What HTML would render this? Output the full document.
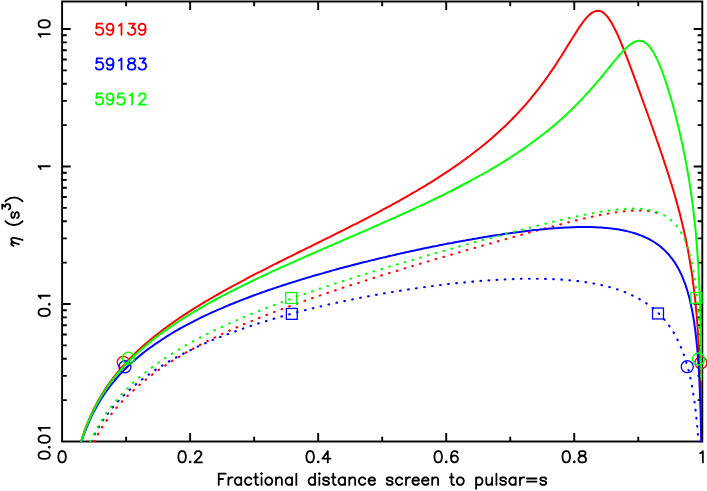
<!DOCTYPE html>
<html><head><meta charset="utf-8"><title>eta vs s</title>
<style>html,body{margin:0;padding:0;background:#fff;font-family:"Liberation Sans",sans-serif;}svg{display:block}</style>
</head><body>
<svg width="707" height="491" viewBox="0 0 707 491">
<rect width="707" height="491" fill="#fff"/>
<rect x="62.10" y="1.50" width="640.20" height="440.00" fill="none" stroke="#000" stroke-width="1.9"/>
<path d="M126.12 441.50v-4.70M126.12 1.50v4.70M190.14 441.50v-8.60M190.14 1.50v8.60M254.16 441.50v-4.70M254.16 1.50v4.70M318.18 441.50v-8.60M318.18 1.50v8.60M382.20 441.50v-4.70M382.20 1.50v4.70M446.22 441.50v-8.60M446.22 1.50v8.60M510.24 441.50v-4.70M510.24 1.50v4.70M574.26 441.50v-8.60M574.26 1.50v8.60M638.28 441.50v-4.70M638.28 1.50v4.70M62.10 400.11h4.70M702.30 400.11h-4.70M62.10 375.90h4.70M702.30 375.90h-4.70M62.10 358.72h4.70M702.30 358.72h-4.70M62.10 345.39h4.70M702.30 345.39h-4.70M62.10 334.50h4.70M702.30 334.50h-4.70M62.10 325.30h4.70M702.30 325.30h-4.70M62.10 317.33h4.70M702.30 317.33h-4.70M62.10 310.29h4.70M702.30 310.29h-4.70M62.10 304.00h8.60M702.30 304.00h-8.60M62.10 262.61h4.70M702.30 262.61h-4.70M62.10 238.40h4.70M702.30 238.40h-4.70M62.10 221.22h4.70M702.30 221.22h-4.70M62.10 207.89h4.70M702.30 207.89h-4.70M62.10 197.00h4.70M702.30 197.00h-4.70M62.10 187.80h4.70M702.30 187.80h-4.70M62.10 179.83h4.70M702.30 179.83h-4.70M62.10 172.79h4.70M702.30 172.79h-4.70M62.10 166.50h8.60M702.30 166.50h-8.60M62.10 125.11h4.70M702.30 125.11h-4.70M62.10 100.90h4.70M702.30 100.90h-4.70M62.10 83.72h4.70M702.30 83.72h-4.70M62.10 70.39h4.70M702.30 70.39h-4.70M62.10 59.50h4.70M702.30 59.50h-4.70M62.10 50.30h4.70M702.30 50.30h-4.70M62.10 42.33h4.70M702.30 42.33h-4.70M62.10 35.29h4.70M702.30 35.29h-4.70M62.10 29.00h8.60M702.30 29.00h-8.60" stroke="#000" stroke-width="1.9" fill="none"/>
<path d="M-0.54 -11.24 L-2.14 -10.70 L-3.21 -9.10 L-3.75 -6.42 L-3.75 -4.82 L-3.21 -2.14 L-2.14 -0.54 L-0.54 -0.00 L0.54 -0.00 L2.14 -0.54 L3.21 -2.14 L3.75 -4.82 L3.75 -6.42 L3.21 -9.10 L2.14 -10.70 L0.54 -11.24 L-0.54 -11.24" transform="translate(62.10 462.40)" fill="none" stroke="#000" stroke-width="1.8" stroke-linecap="round" stroke-linejoin="round"/>
<path d="M-8.56 -11.24 L-10.16 -10.70 L-11.23 -9.10 L-11.77 -6.42 L-11.77 -4.82 L-11.23 -2.14 L-10.16 -0.54 L-8.56 -0.00 L-7.49 -0.00 L-5.88 -0.54 L-4.81 -2.14 L-4.28 -4.82 L-4.28 -6.42 L-4.81 -9.10 L-5.88 -10.70 L-7.49 -11.24 L-8.56 -11.24M0.00 -1.07 L-0.53 -0.54 L0.00 -0.00 L0.54 -0.54 L0.00 -1.07M4.82 -8.56 L4.82 -9.10 L5.35 -10.17 L5.89 -10.70 L6.96 -11.24 L9.09 -11.24 L10.16 -10.70 L10.70 -10.17 L11.23 -9.10 L11.23 -8.03 L10.70 -6.96 L9.63 -5.35 L4.28 -0.00 L11.77 -0.00" transform="translate(190.14 462.40)" fill="none" stroke="#000" stroke-width="1.8" stroke-linecap="round" stroke-linejoin="round"/>
<path d="M-8.56 -11.24 L-10.16 -10.70 L-11.23 -9.10 L-11.77 -6.42 L-11.77 -4.82 L-11.23 -2.14 L-10.16 -0.54 L-8.56 -0.00 L-7.49 -0.00 L-5.88 -0.54 L-4.81 -2.14 L-4.28 -4.82 L-4.28 -6.42 L-4.81 -9.10 L-5.88 -10.70 L-7.49 -11.24 L-8.56 -11.24M0.00 -1.07 L-0.53 -0.54 L0.00 -0.00 L0.54 -0.54 L0.00 -1.07M9.63 -11.24 L4.28 -3.75 L12.30 -3.75M9.63 -11.24 L9.63 -0.00" transform="translate(318.18 462.40)" fill="none" stroke="#000" stroke-width="1.8" stroke-linecap="round" stroke-linejoin="round"/>
<path d="M-8.56 -11.24 L-10.16 -10.70 L-11.23 -9.10 L-11.77 -6.42 L-11.77 -4.82 L-11.23 -2.14 L-10.16 -0.54 L-8.56 -0.00 L-7.49 -0.00 L-5.88 -0.54 L-4.81 -2.14 L-4.28 -4.82 L-4.28 -6.42 L-4.81 -9.10 L-5.88 -10.70 L-7.49 -11.24 L-8.56 -11.24M0.00 -1.07 L-0.53 -0.54 L0.00 -0.00 L0.54 -0.54 L0.00 -1.07M11.23 -9.63 L10.70 -10.70 L9.09 -11.24 L8.03 -11.24 L6.42 -10.70 L5.35 -9.10 L4.82 -6.42 L4.82 -3.75 L5.35 -1.60 L6.42 -0.54 L8.03 -0.00 L8.56 -0.00 L10.16 -0.54 L11.23 -1.60 L11.77 -3.21 L11.77 -3.75 L11.23 -5.35 L10.16 -6.42 L8.56 -6.96 L8.03 -6.96 L6.42 -6.42 L5.35 -5.35 L4.82 -3.75" transform="translate(446.22 462.40)" fill="none" stroke="#000" stroke-width="1.8" stroke-linecap="round" stroke-linejoin="round"/>
<path d="M-8.56 -11.24 L-10.16 -10.70 L-11.23 -9.10 L-11.77 -6.42 L-11.77 -4.82 L-11.23 -2.14 L-10.16 -0.54 L-8.56 -0.00 L-7.49 -0.00 L-5.88 -0.54 L-4.81 -2.14 L-4.28 -4.82 L-4.28 -6.42 L-4.81 -9.10 L-5.88 -10.70 L-7.49 -11.24 L-8.56 -11.24M0.00 -1.07 L-0.53 -0.54 L0.00 -0.00 L0.54 -0.54 L0.00 -1.07M6.96 -11.24 L5.35 -10.70 L4.82 -9.63 L4.82 -8.56 L5.35 -7.49 L6.42 -6.96 L8.56 -6.42 L10.16 -5.89 L11.23 -4.82 L11.77 -3.75 L11.77 -2.14 L11.23 -1.07 L10.70 -0.54 L9.09 -0.00 L6.96 -0.00 L5.35 -0.54 L4.82 -1.07 L4.28 -2.14 L4.28 -3.75 L4.82 -4.82 L5.89 -5.89 L7.49 -6.42 L9.63 -6.96 L10.70 -7.49 L11.23 -8.56 L11.23 -9.63 L10.70 -10.70 L9.09 -11.24 L6.96 -11.24" transform="translate(574.26 462.40)" fill="none" stroke="#000" stroke-width="1.8" stroke-linecap="round" stroke-linejoin="round"/>
<path d="M-2.14 -9.10 L-1.07 -9.63 L0.54 -11.24 L0.54 -0.00" transform="translate(702.30 462.40)" fill="none" stroke="#000" stroke-width="1.8" stroke-linecap="round" stroke-linejoin="round"/>
<path d="M-13.91 -11.24 L-15.52 -10.70 L-16.59 -9.10 L-17.12 -6.42 L-17.12 -4.82 L-16.59 -2.14 L-15.52 -0.54 L-13.91 -0.00 L-12.84 -0.00 L-11.24 -0.54 L-10.17 -2.14 L-9.63 -4.82 L-9.63 -6.42 L-10.17 -9.10 L-11.24 -10.70 L-12.84 -11.24 L-13.91 -11.24M-5.35 -1.07 L-5.88 -0.54 L-5.35 -0.00 L-4.82 -0.54 L-5.35 -1.07M2.14 -11.24 L0.54 -10.70 L-0.54 -9.10 L-1.07 -6.42 L-1.07 -4.82 L-0.54 -2.14 L0.54 -0.54 L2.14 -0.00 L3.21 -0.00 L4.81 -0.54 L5.88 -2.14 L6.42 -4.82 L6.42 -6.42 L5.88 -9.10 L4.81 -10.70 L3.21 -11.24 L2.14 -11.24M11.23 -9.10 L12.30 -9.63 L13.91 -11.24 L13.91 -0.00" transform="translate(49.80 441.80) rotate(-90)" fill="none" stroke="#000" stroke-width="1.8" stroke-linecap="round" stroke-linejoin="round"/>
<path d="M-8.56 -11.24 L-10.16 -10.70 L-11.23 -9.10 L-11.77 -6.42 L-11.77 -4.82 L-11.23 -2.14 L-10.16 -0.54 L-8.56 -0.00 L-7.49 -0.00 L-5.88 -0.54 L-4.81 -2.14 L-4.28 -4.82 L-4.28 -6.42 L-4.81 -9.10 L-5.88 -10.70 L-7.49 -11.24 L-8.56 -11.24M0.00 -1.07 L-0.53 -0.54 L0.00 -0.00 L0.54 -0.54 L0.00 -1.07M5.89 -9.10 L6.96 -9.63 L8.56 -11.24 L8.56 -0.00" transform="translate(49.80 304.30) rotate(-90)" fill="none" stroke="#000" stroke-width="1.8" stroke-linecap="round" stroke-linejoin="round"/>
<path d="M-2.14 -9.10 L-1.07 -9.63 L0.54 -11.24 L0.54 -0.00" transform="translate(49.80 166.80) rotate(-90)" fill="none" stroke="#000" stroke-width="1.8" stroke-linecap="round" stroke-linejoin="round"/>
<path d="M-7.49 -9.10 L-6.42 -9.63 L-4.82 -11.24 L-4.82 -0.00M4.81 -11.24 L3.21 -10.70 L2.14 -9.10 L1.61 -6.42 L1.61 -4.82 L2.14 -2.14 L3.21 -0.54 L4.81 -0.00 L5.88 -0.00 L7.49 -0.54 L8.56 -2.14 L9.10 -4.82 L9.10 -6.42 L8.56 -9.10 L7.49 -10.70 L5.88 -11.24 L4.81 -11.24" transform="translate(49.80 29.30) rotate(-90)" fill="none" stroke="#000" stroke-width="1.8" stroke-linecap="round" stroke-linejoin="round"/>
<path d="M-163.44 -11.24 L-163.44 -0.00M-163.44 -11.24 L-156.49 -11.24M-163.44 -5.89 L-159.16 -5.89M-153.81 -7.49 L-153.81 -0.00M-153.81 -4.28 L-153.28 -5.89 L-152.21 -6.96 L-151.14 -7.49 L-149.53 -7.49M-140.97 -7.49 L-140.97 -0.00M-140.97 -5.89 L-142.04 -6.96 L-143.11 -7.49 L-144.72 -7.49 L-145.79 -6.96 L-146.86 -5.89 L-147.39 -4.28 L-147.39 -3.21 L-146.86 -1.60 L-145.79 -0.54 L-144.72 -0.00 L-143.11 -0.00 L-142.04 -0.54 L-140.97 -1.60M-130.81 -5.89 L-131.88 -6.96 L-132.95 -7.49 L-134.55 -7.49 L-135.62 -6.96 L-136.69 -5.89 L-137.23 -4.28 L-137.23 -3.21 L-136.69 -1.60 L-135.62 -0.54 L-134.55 -0.00 L-132.95 -0.00 L-131.88 -0.54 L-130.81 -1.60M-126.53 -11.24 L-126.53 -2.14 L-125.99 -0.54 L-124.92 -0.00 L-123.85 -0.00M-128.13 -7.49 L-124.39 -7.49M-121.18 -11.24 L-120.64 -10.70 L-120.11 -11.24 L-120.64 -11.77 L-121.18 -11.24M-120.64 -7.49 L-120.64 -0.00M-114.22 -7.49 L-115.29 -6.96 L-116.36 -5.89 L-116.90 -4.28 L-116.90 -3.21 L-116.36 -1.60 L-115.29 -0.54 L-114.22 -0.00 L-112.62 -0.00 L-111.55 -0.54 L-110.48 -1.60 L-109.94 -3.21 L-109.94 -4.28 L-110.48 -5.89 L-111.55 -6.96 L-112.62 -7.49 L-114.22 -7.49M-106.20 -7.49 L-106.20 -0.00M-106.20 -5.35 L-104.59 -6.96 L-103.52 -7.49 L-101.92 -7.49 L-100.85 -6.96 L-100.31 -5.35 L-100.31 -0.00M-90.15 -7.49 L-90.15 -0.00M-90.15 -5.89 L-91.22 -6.96 L-92.29 -7.49 L-93.89 -7.49 L-94.96 -6.96 L-96.03 -5.89 L-96.57 -4.28 L-96.57 -3.21 L-96.03 -1.60 L-94.96 -0.54 L-93.89 -0.00 L-92.29 -0.00 L-91.22 -0.54 L-90.15 -1.60M-85.87 -11.24 L-85.87 -0.00M-67.14 -11.24 L-67.14 -0.00M-67.14 -5.89 L-68.21 -6.96 L-69.28 -7.49 L-70.89 -7.49 L-71.96 -6.96 L-73.03 -5.89 L-73.56 -4.28 L-73.56 -3.21 L-73.03 -1.60 L-71.96 -0.54 L-70.89 -0.00 L-69.28 -0.00 L-68.21 -0.54 L-67.14 -1.60M-63.40 -11.24 L-62.86 -10.70 L-62.33 -11.24 L-62.86 -11.77 L-63.40 -11.24M-62.86 -7.49 L-62.86 -0.00M-53.23 -5.89 L-53.77 -6.96 L-55.37 -7.49 L-56.98 -7.49 L-58.58 -6.96 L-59.12 -5.89 L-58.58 -4.82 L-57.51 -4.28 L-54.84 -3.75 L-53.77 -3.21 L-53.23 -2.14 L-53.23 -1.60 L-53.77 -0.54 L-55.37 -0.00 L-56.98 -0.00 L-58.58 -0.54 L-59.12 -1.60M-48.95 -11.24 L-48.95 -2.14 L-48.42 -0.54 L-47.35 -0.00 L-46.28 -0.00M-50.56 -7.49 L-46.81 -7.49M-37.18 -7.49 L-37.18 -0.00M-37.18 -5.89 L-38.25 -6.96 L-39.32 -7.49 L-40.93 -7.49 L-42.00 -6.96 L-43.07 -5.89 L-43.60 -4.28 L-43.60 -3.21 L-43.07 -1.60 L-42.00 -0.54 L-40.93 -0.00 L-39.32 -0.00 L-38.25 -0.54 L-37.18 -1.60M-32.90 -7.49 L-32.90 -0.00M-32.90 -5.35 L-31.30 -6.96 L-30.23 -7.49 L-28.62 -7.49 L-27.55 -6.96 L-27.02 -5.35 L-27.02 -0.00M-16.85 -5.89 L-17.92 -6.96 L-18.99 -7.49 L-20.60 -7.49 L-21.67 -6.96 L-22.74 -5.89 L-23.27 -4.28 L-23.27 -3.21 L-22.74 -1.60 L-21.67 -0.54 L-20.60 -0.00 L-18.99 -0.00 L-17.92 -0.54 L-16.85 -1.60M-13.64 -4.28 L-7.22 -4.28 L-7.22 -5.35 L-7.76 -6.42 L-8.29 -6.96 L-9.36 -7.49 L-10.97 -7.49 L-12.04 -6.96 L-13.11 -5.89 L-13.64 -4.28 L-13.64 -3.21 L-13.11 -1.60 L-12.04 -0.54 L-10.97 -0.00 L-9.36 -0.00 L-8.29 -0.54 L-7.22 -1.60M10.43 -5.89 L9.90 -6.96 L8.29 -7.49 L6.69 -7.49 L5.08 -6.96 L4.55 -5.89 L5.08 -4.82 L6.15 -4.28 L8.83 -3.75 L9.90 -3.21 L10.43 -2.14 L10.43 -1.60 L9.90 -0.54 L8.29 -0.00 L6.69 -0.00 L5.08 -0.54 L4.55 -1.60M20.06 -5.89 L18.99 -6.96 L17.92 -7.49 L16.32 -7.49 L15.25 -6.96 L14.18 -5.89 L13.64 -4.28 L13.64 -3.21 L14.18 -1.60 L15.25 -0.54 L16.32 -0.00 L17.92 -0.00 L18.99 -0.54 L20.06 -1.60M23.81 -7.49 L23.81 -0.00M23.81 -4.28 L24.34 -5.89 L25.41 -6.96 L26.48 -7.49 L28.09 -7.49M30.23 -4.28 L36.65 -4.28 L36.65 -5.35 L36.11 -6.42 L35.58 -6.96 L34.51 -7.49 L32.90 -7.49 L31.83 -6.96 L30.76 -5.89 L30.23 -4.28 L30.23 -3.21 L30.76 -1.60 L31.83 -0.54 L32.90 -0.00 L34.51 -0.00 L35.58 -0.54 L36.65 -1.60M39.86 -4.28 L46.28 -4.28 L46.28 -5.35 L45.74 -6.42 L45.21 -6.96 L44.14 -7.49 L42.53 -7.49 L41.46 -6.96 L40.39 -5.89 L39.86 -4.28 L39.86 -3.21 L40.39 -1.60 L41.46 -0.54 L42.53 -0.00 L44.14 -0.00 L45.21 -0.54 L46.28 -1.60M50.02 -7.49 L50.02 -0.00M50.02 -5.35 L51.63 -6.96 L52.70 -7.49 L54.30 -7.49 L55.37 -6.96 L55.91 -5.35 L55.91 -0.00M69.28 -11.24 L69.28 -2.14 L69.82 -0.54 L70.89 -0.00 L71.96 -0.00M67.68 -7.49 L71.42 -7.49M77.31 -7.49 L76.24 -6.96 L75.17 -5.89 L74.63 -4.28 L74.63 -3.21 L75.17 -1.60 L76.24 -0.54 L77.31 -0.00 L78.91 -0.00 L79.98 -0.54 L81.05 -1.60 L81.59 -3.21 L81.59 -4.28 L81.05 -5.89 L79.98 -6.96 L78.91 -7.49 L77.31 -7.49M93.89 -7.49 L93.89 3.75M93.89 -5.89 L94.96 -6.96 L96.03 -7.49 L97.64 -7.49 L98.71 -6.96 L99.78 -5.89 L100.31 -4.28 L100.31 -3.21 L99.78 -1.60 L98.71 -0.54 L97.64 -0.00 L96.03 -0.00 L94.96 -0.54 L93.89 -1.60M104.06 -7.49 L104.06 -2.14 L104.59 -0.54 L105.66 -0.00 L107.27 -0.00 L108.34 -0.54 L109.94 -2.14M109.94 -7.49 L109.94 -0.00M114.22 -11.24 L114.22 -0.00M123.85 -5.89 L123.32 -6.96 L121.71 -7.49 L120.11 -7.49 L118.50 -6.96 L117.97 -5.89 L118.50 -4.82 L119.57 -4.28 L122.25 -3.75 L123.32 -3.21 L123.85 -2.14 L123.85 -1.60 L123.32 -0.54 L121.71 -0.00 L120.11 -0.00 L118.50 -0.54 L117.97 -1.60M133.48 -7.49 L133.48 -0.00M133.48 -5.89 L132.41 -6.96 L131.34 -7.49 L129.74 -7.49 L128.67 -6.96 L127.60 -5.89 L127.06 -4.28 L127.06 -3.21 L127.60 -1.60 L128.67 -0.54 L129.74 -0.00 L131.34 -0.00 L132.41 -0.54 L133.48 -1.60M137.76 -7.49 L137.76 -0.00M137.76 -4.28 L138.30 -5.89 L139.37 -6.96 L140.44 -7.49 L142.04 -7.49M144.72 -6.42 L154.35 -6.42M144.72 -3.21 L154.35 -3.21M163.98 -5.89 L163.44 -6.96 L161.84 -7.49 L160.23 -7.49 L158.63 -6.96 L158.09 -5.89 L158.63 -4.82 L159.70 -4.28 L162.37 -3.75 L163.44 -3.21 L163.98 -2.14 L163.98 -1.60 L163.44 -0.54 L161.84 -0.00 L160.23 -0.00 L158.63 -0.54 L158.09 -1.60" transform="translate(382.20 484.90)" fill="none" stroke="#000" stroke-width="1.8" stroke-linecap="round" stroke-linejoin="round"/>
<path d="M0.54 -5.35 L1.07 -6.42 L2.14 -7.49 L3.21 -7.49 L3.75 -6.96 L3.75 -5.89 L3.21 -3.75 L2.14 -0.00M3.21 -3.75 L4.28 -5.89 L5.35 -6.96 L6.42 -7.49 L7.49 -7.49 L8.56 -6.42 L8.56 -4.82 L8.03 -2.14 L6.42 3.75M25.15 -13.38 L24.08 -12.31 L23.01 -10.70 L21.94 -8.56 L21.40 -5.89 L21.40 -3.75 L21.94 -1.07 L23.01 1.07 L24.08 2.68 L25.15 3.75M34.24 -5.89 L33.70 -6.96 L32.10 -7.49 L30.50 -7.49 L28.89 -6.96 L28.36 -5.89 L28.89 -4.82 L29.96 -4.28 L32.63 -3.75 L33.70 -3.21 L34.24 -2.14 L34.24 -1.60 L33.70 -0.54 L32.10 -0.00 L30.50 -0.00 L28.89 -0.54 L28.36 -1.60M37.74 -16.54 L41.92 -16.54 L39.64 -13.50 L40.78 -13.50 L41.54 -13.12 L41.92 -12.74 L42.30 -11.60 L42.30 -10.84 L41.92 -9.70 L41.16 -8.94 L40.02 -8.56 L38.88 -8.56 L37.74 -8.94 L37.36 -9.32 L36.98 -10.08M45.05 -13.38 L46.12 -12.31 L47.19 -10.70 L48.26 -8.56 L48.79 -5.89 L48.79 -3.75 L48.26 -1.07 L47.19 1.07 L46.12 2.68 L45.05 3.75" transform="translate(18.80 246.38) rotate(-90)" fill="none" stroke="#000" stroke-width="1.8" stroke-linecap="round" stroke-linejoin="round"/>
<path d="M8.03 -11.24 L2.68 -11.24 L2.14 -6.42 L2.68 -6.96 L4.28 -7.49 L5.89 -7.49 L7.49 -6.96 L8.56 -5.89 L9.10 -4.28 L9.10 -3.21 L8.56 -1.60 L7.49 -0.54 L5.89 -0.00 L4.28 -0.00 L2.68 -0.54 L2.14 -1.07 L1.60 -2.14M19.26 -7.49 L18.73 -5.89 L17.66 -4.82 L16.05 -4.28 L15.52 -4.28 L13.91 -4.82 L12.84 -5.89 L12.31 -7.49 L12.31 -8.03 L12.84 -9.63 L13.91 -10.70 L15.52 -11.24 L16.05 -11.24 L17.66 -10.70 L18.73 -9.63 L19.26 -7.49 L19.26 -4.82 L18.73 -2.14 L17.66 -0.54 L16.05 -0.00 L14.98 -0.00 L13.38 -0.54 L12.84 -1.60M24.61 -9.10 L25.68 -9.63 L27.29 -11.24 L27.29 -0.00M34.77 -11.24 L40.66 -11.24 L37.45 -6.96 L39.05 -6.96 L40.12 -6.42 L40.66 -5.89 L41.20 -4.28 L41.20 -3.21 L40.66 -1.60 L39.59 -0.54 L37.98 -0.00 L36.38 -0.00 L34.77 -0.54 L34.24 -1.07 L33.70 -2.14M51.36 -7.49 L50.83 -5.89 L49.76 -4.82 L48.15 -4.28 L47.62 -4.28 L46.01 -4.82 L44.94 -5.89 L44.41 -7.49 L44.41 -8.03 L44.94 -9.63 L46.01 -10.70 L47.62 -11.24 L48.15 -11.24 L49.76 -10.70 L50.83 -9.63 L51.36 -7.49 L51.36 -4.82 L50.83 -2.14 L49.76 -0.54 L48.15 -0.00 L47.08 -0.00 L45.48 -0.54 L44.94 -1.60" transform="translate(94.20 34.80)" fill="none" stroke="#ff0000" stroke-width="1.8" stroke-linecap="round" stroke-linejoin="round"/>
<path d="M8.03 -11.24 L2.68 -11.24 L2.14 -6.42 L2.68 -6.96 L4.28 -7.49 L5.89 -7.49 L7.49 -6.96 L8.56 -5.89 L9.10 -4.28 L9.10 -3.21 L8.56 -1.60 L7.49 -0.54 L5.89 -0.00 L4.28 -0.00 L2.68 -0.54 L2.14 -1.07 L1.60 -2.14M19.26 -7.49 L18.73 -5.89 L17.66 -4.82 L16.05 -4.28 L15.52 -4.28 L13.91 -4.82 L12.84 -5.89 L12.31 -7.49 L12.31 -8.03 L12.84 -9.63 L13.91 -10.70 L15.52 -11.24 L16.05 -11.24 L17.66 -10.70 L18.73 -9.63 L19.26 -7.49 L19.26 -4.82 L18.73 -2.14 L17.66 -0.54 L16.05 -0.00 L14.98 -0.00 L13.38 -0.54 L12.84 -1.60M24.61 -9.10 L25.68 -9.63 L27.29 -11.24 L27.29 -0.00M36.38 -11.24 L34.77 -10.70 L34.24 -9.63 L34.24 -8.56 L34.77 -7.49 L35.84 -6.96 L37.98 -6.42 L39.59 -5.89 L40.66 -4.82 L41.20 -3.75 L41.20 -2.14 L40.66 -1.07 L40.12 -0.54 L38.52 -0.00 L36.38 -0.00 L34.77 -0.54 L34.24 -1.07 L33.70 -2.14 L33.70 -3.75 L34.24 -4.82 L35.31 -5.89 L36.91 -6.42 L39.05 -6.96 L40.12 -7.49 L40.66 -8.56 L40.66 -9.63 L40.12 -10.70 L38.52 -11.24 L36.38 -11.24M45.48 -11.24 L51.36 -11.24 L48.15 -6.96 L49.76 -6.96 L50.83 -6.42 L51.36 -5.89 L51.90 -4.28 L51.90 -3.21 L51.36 -1.60 L50.29 -0.54 L48.69 -0.00 L47.08 -0.00 L45.48 -0.54 L44.94 -1.07 L44.41 -2.14" transform="translate(94.20 69.60)" fill="none" stroke="#0000ff" stroke-width="1.8" stroke-linecap="round" stroke-linejoin="round"/>
<path d="M8.03 -11.24 L2.68 -11.24 L2.14 -6.42 L2.68 -6.96 L4.28 -7.49 L5.89 -7.49 L7.49 -6.96 L8.56 -5.89 L9.10 -4.28 L9.10 -3.21 L8.56 -1.60 L7.49 -0.54 L5.89 -0.00 L4.28 -0.00 L2.68 -0.54 L2.14 -1.07 L1.60 -2.14M19.26 -7.49 L18.73 -5.89 L17.66 -4.82 L16.05 -4.28 L15.52 -4.28 L13.91 -4.82 L12.84 -5.89 L12.31 -7.49 L12.31 -8.03 L12.84 -9.63 L13.91 -10.70 L15.52 -11.24 L16.05 -11.24 L17.66 -10.70 L18.73 -9.63 L19.26 -7.49 L19.26 -4.82 L18.73 -2.14 L17.66 -0.54 L16.05 -0.00 L14.98 -0.00 L13.38 -0.54 L12.84 -1.60M29.43 -11.24 L24.08 -11.24 L23.54 -6.42 L24.08 -6.96 L25.68 -7.49 L27.29 -7.49 L28.89 -6.96 L29.96 -5.89 L30.50 -4.28 L30.50 -3.21 L29.96 -1.60 L28.89 -0.54 L27.29 -0.00 L25.68 -0.00 L24.08 -0.54 L23.54 -1.07 L23.01 -2.14M35.31 -9.10 L36.38 -9.63 L37.98 -11.24 L37.98 -0.00M44.94 -8.56 L44.94 -9.10 L45.48 -10.17 L46.01 -10.70 L47.08 -11.24 L49.22 -11.24 L50.29 -10.70 L50.83 -10.17 L51.36 -9.10 L51.36 -8.03 L50.83 -6.96 L49.76 -5.35 L44.41 -0.00 L51.90 -0.00" transform="translate(94.20 104.60)" fill="none" stroke="#00ff00" stroke-width="1.8" stroke-linecap="round" stroke-linejoin="round"/>
<clipPath id="cp"><rect x="62.10" y="1.50" width="640.20" height="440.80"/></clipPath>
<g clip-path="url(#cp)" fill="none">
<path d="M69.78 496.96 L71.7 483.4 L73.6 472.2 L75.5 462.8 L77.5 454.6 L79.4 447.3 L81.3 440.7 L83.2 434.8 L85.1 429.3 L87.1 424.3 L89.0 419.6 L90.9 415.2 L92.8 411.1 L94.8 407.2 L96.7 403.6 L98.6 400.1 L100.5 396.7 L102.4 393.6 L104.4 390.5 L106.3 387.6 L108.2 384.8 L110.1 382.1 L112.0 379.5 L114.0 376.9 L115.9 374.5 L117.8 372.1 L119.7 369.8 L121.6 367.6 L123.6 365.4 L125.5 363.3 L127.4 361.2 L129.3 359.2 L131.2 357.2 L133.2 355.3 L135.1 353.4 L137.0 351.6 L138.9 349.8 L140.8 348.0 L142.8 346.3 L144.7 344.6 L146.6 342.9 L148.5 341.3 L150.4 339.7 L152.4 338.1 L154.3 336.5 L156.2 335.0 L158.1 333.5 L160.1 332.0 L162.0 330.5 L163.9 329.1 L165.8 327.7 L167.7 326.3 L169.7 324.9 L171.6 323.5 L173.5 322.2 L175.4 320.8 L177.3 319.5 L179.3 318.2 L181.2 316.9 L183.1 315.6 L185.0 314.4 L186.9 313.1 L188.9 311.9 L190.8 310.6 L192.7 309.4 L194.6 308.2 L196.5 307.0 L198.5 305.8 L200.4 304.7 L202.3 303.5 L204.2 302.3 L206.1 301.2 L208.1 300.1 L210.0 298.9 L211.9 297.8 L213.8 296.7 L215.7 295.6 L217.7 294.5 L219.6 293.4 L221.5 292.3 L223.4 291.2 L225.4 290.2 L227.3 289.1 L229.2 288.0 L231.1 287.0 L233.0 285.9 L235.0 284.9 L236.9 283.9 L238.8 282.8 L240.7 281.8 L242.6 280.8 L244.6 279.8 L246.5 278.7 L248.4 277.7 L250.3 276.7 L252.2 275.7 L254.2 274.7 L256.1 273.7 L258.0 272.7 L259.9 271.8 L261.8 270.8 L263.8 269.8 L265.7 268.8 L267.6 267.8 L269.5 266.9 L271.4 265.9 L273.4 264.9 L275.3 263.9 L277.2 263.0 L279.1 262.0 L281.0 261.1 L283.0 260.1 L284.9 259.1 L286.8 258.2 L288.7 257.2 L290.7 256.3 L292.6 255.3 L294.5 254.4 L296.4 253.4 L298.3 252.5 L300.3 251.5 L302.2 250.6 L304.1 249.6 L306.0 248.7 L307.9 247.7 L309.9 246.8 L311.8 245.8 L313.7 244.9 L315.6 243.9 L317.5 243.0 L319.5 242.0 L321.4 241.1 L323.3 240.1 L325.2 239.2 L327.1 238.2 L329.1 237.3 L331.0 236.3 L332.9 235.3 L334.8 234.4 L336.7 233.4 L338.7 232.5 L340.6 231.5 L342.5 230.6 L344.4 229.6 L346.3 228.6 L348.3 227.7 L350.2 226.7 L352.1 225.7 L354.0 224.7 L356.0 223.8 L357.9 222.8 L359.8 221.8 L361.7 220.8 L363.6 219.8 L365.6 218.8 L367.5 217.8 L369.4 216.8 L371.3 215.8 L373.2 214.8 L375.2 213.8 L377.1 212.8 L379.0 211.8 L380.9 210.8 L382.8 209.7 L384.8 208.7 L386.7 207.7 L388.6 206.6 L390.5 205.6 L392.4 204.5 L394.4 203.5 L396.3 202.4 L398.2 201.4 L400.1 200.3 L402.0 199.2 L404.0 198.1 L405.9 197.0 L407.8 196.0 L409.7 194.9 L411.6 193.7 L413.6 192.6 L415.5 191.5 L417.4 190.4 L419.3 189.2 L421.3 188.1 L423.2 186.9 L425.1 185.8 L427.0 184.6 L428.9 183.4 L430.9 182.3 L432.8 181.1 L434.7 179.9 L436.6 178.6 L438.5 177.4 L440.5 176.2 L442.4 174.9 L444.3 173.7 L446.2 172.4 L448.1 171.1 L450.1 169.8 L452.0 168.5 L453.9 167.2 L455.8 165.9 L457.7 164.6 L459.7 163.2 L461.6 161.8 L463.5 160.4 L465.4 159.1 L467.3 157.6 L469.3 156.2 L471.2 154.8 L473.1 153.3 L475.0 151.8 L476.9 150.3 L478.9 148.8 L480.8 147.3 L482.7 145.7 L484.6 144.2 L486.6 142.6 L488.5 141.0 L490.4 139.3 L492.3 137.7 L494.2 136.0 L496.2 134.3 L498.1 132.6 L500.0 130.8 L501.9 129.0 L503.8 127.2 L505.8 125.4 L507.7 123.5 L509.6 121.6 L511.5 119.7 L513.4 117.7 L515.4 115.8 L517.3 113.7 L519.2 111.7 L521.1 109.6 L523.0 107.5 L525.0 105.3 L526.9 103.1 L528.8 100.8 L530.7 98.6 L532.6 96.2 L534.6 93.9 L536.5 91.4 L538.4 89.0 L540.3 86.5 L542.2 83.9 L544.2 81.3 L546.1 78.7 L548.0 76.0 L549.9 73.2 L551.9 70.4 L553.8 67.6 L555.7 64.7 L557.6 61.7 L559.5 58.8 L561.5 55.8 L563.4 52.7 L565.3 49.6 L567.2 46.5 L569.1 43.4 L571.1 40.3 L573.0 37.2 L574.9 34.2 L576.8 31.2 L578.7 28.2 L580.7 25.4 L582.6 22.7 L584.5 20.2 L586.4 17.9 L588.3 15.8 L590.3 14.1 L592.2 12.6 L594.1 11.6 L596.0 10.9 L597.9 10.7 L599.9 11.0 L601.8 11.7 L603.7 13.0 L605.6 14.7 L607.6 16.9 L609.5 19.6 L611.4 22.6 L613.3 26.1 L615.2 29.8 L617.2 33.9 L619.1 38.2 L621.0 42.7 L622.9 47.4 L624.8 52.2 L626.8 57.1 L628.7 62.2 L630.6 67.3 L632.5 72.4 L634.4 77.7 L636.4 82.9 L638.3 88.2 L638.9 89.9 L639.6 91.7 L640.2 93.4 L640.8 95.2 L641.5 97.0 L642.1 98.8 L642.8 100.5 L643.4 102.3 L644.0 104.1 L644.7 105.8 L645.3 107.6 L646.0 109.4 L646.6 111.2 L647.2 113.0 L647.9 114.7 L648.5 116.5 L649.2 118.3 L649.8 120.1 L650.4 121.9 L651.1 123.7 L651.7 125.5 L652.4 127.3 L653.0 129.1 L653.6 130.9 L654.3 132.7 L654.9 134.6 L655.6 136.4 L656.2 138.2 L656.8 140.0 L657.5 141.9 L658.1 143.7 L658.8 145.6 L659.4 147.4 L660.0 149.3 L660.7 151.2 L661.3 153.0 L662.0 154.9 L662.6 156.8 L663.2 158.7 L663.9 160.6 L664.5 162.6 L665.2 164.5 L665.8 166.4 L666.4 168.4 L667.1 170.4 L667.7 172.4 L668.4 174.4 L669.0 176.4 L669.6 178.4 L670.3 180.5 L670.9 182.5 L671.6 184.6 L672.2 186.7 L672.9 188.9 L673.5 191.0 L674.1 193.2 L674.8 195.4 L675.4 197.6 L676.1 199.9 L676.7 202.2 L677.3 204.5 L678.0 206.8 L678.6 209.2 L679.3 211.6 L679.9 214.1 L680.5 216.6 L681.2 219.2 L681.8 221.8 L682.5 224.5 L683.1 227.2 L683.7 230.0 L684.4 232.8 L685.0 235.7 L685.7 238.7 L686.3 241.8 L686.9 245.0 L687.6 248.2 L688.2 251.6 L688.9 255.1 L689.5 258.8 L690.1 262.5 L690.8 266.5 L691.4 270.6 L692.1 274.9 L692.7 279.5 L693.3 284.3 L694.0 289.4 L694.6 294.8 L695.3 300.7 L695.9 307.1 L696.5 314.0 L697.2 321.7 L697.8 330.4 L698.5 340.2 L699.1 351.8 L699.7 365.8 L700.4 383.6 L701.0 408.4 L701.7 450.5" stroke="#ff0000" stroke-width="2" stroke-linejoin="round"/>
<path d="M94.00 441.50 L94.8 440.0 L96.7 436.5 L98.6 433.1 L100.5 429.9 L102.4 426.8 L104.4 423.9 L106.3 421.1 L108.2 418.4 L110.1 415.8 L112.0 413.3 L114.0 410.9 L115.9 408.5 L117.8 406.3 L119.7 404.1 L121.6 402.0 L123.6 399.9 L125.5 397.9 L127.4 396.0 L129.3 394.1 L131.2 392.3 L133.2 390.5 L135.1 388.7 L137.0 387.0 L138.9 385.3 L140.8 383.7 L142.8 382.1 L144.7 380.5 L146.6 379.0 L148.5 377.5 L150.4 376.0 L152.4 374.5 L154.3 373.1 L156.2 371.7 L158.1 370.3 L160.1 369.0 L162.0 367.7 L163.9 366.4 L165.8 365.1 L167.7 363.8 L169.7 362.6 L171.6 361.3 L173.5 360.1 L175.4 358.9 L177.3 357.8 L179.3 356.6 L181.2 355.5 L183.1 354.3 L185.0 353.2 L186.9 352.1 L188.9 351.0 L190.8 350.0 L192.7 348.9 L194.6 347.9 L196.5 346.8 L198.5 345.8 L200.4 344.8 L202.3 343.8 L204.2 342.8 L206.1 341.8 L208.1 340.8 L210.0 339.9 L211.9 338.9 L213.8 338.0 L215.7 337.1 L217.7 336.1 L219.6 335.2 L221.5 334.3 L223.4 333.4 L225.4 332.5 L227.3 331.6 L229.2 330.8 L231.1 329.9 L233.0 329.0 L235.0 328.2 L236.9 327.3 L238.8 326.5 L240.7 325.7 L242.6 324.8 L244.6 324.0 L246.5 323.2 L248.4 322.4 L250.3 321.6 L252.2 320.8 L254.2 320.0 L256.1 319.2 L258.0 318.4 L259.9 317.7 L261.8 316.9 L263.8 316.1 L265.7 315.4 L267.6 314.6 L269.5 313.9 L271.4 313.1 L273.4 312.4 L275.3 311.6 L277.2 310.9 L279.1 310.2 L281.0 309.4 L283.0 308.7 L284.9 308.0 L286.8 307.3 L288.7 306.6 L290.7 305.9 L292.6 305.2 L294.5 304.5 L296.4 303.8 L298.3 303.1 L300.3 302.4 L302.2 301.7 L304.1 301.0 L306.0 300.3 L307.9 299.7 L309.9 299.0 L311.8 298.3 L313.7 297.7 L315.6 297.0 L317.5 296.3 L319.5 295.7 L321.4 295.0 L323.3 294.4 L325.2 293.7 L327.1 293.1 L329.1 292.4 L331.0 291.8 L332.9 291.1 L334.8 290.5 L336.7 289.8 L338.7 289.2 L340.6 288.6 L342.5 287.9 L344.4 287.3 L346.3 286.7 L348.3 286.1 L350.2 285.4 L352.1 284.8 L354.0 284.2 L356.0 283.6 L357.9 283.0 L359.8 282.4 L361.7 281.7 L363.6 281.1 L365.6 280.5 L367.5 279.9 L369.4 279.3 L371.3 278.7 L373.2 278.1 L375.2 277.5 L377.1 276.9 L379.0 276.3 L380.9 275.7 L382.8 275.1 L384.8 274.5 L386.7 273.9 L388.6 273.3 L390.5 272.8 L392.4 272.2 L394.4 271.6 L396.3 271.0 L398.2 270.4 L400.1 269.8 L402.0 269.2 L404.0 268.7 L405.9 268.1 L407.8 267.5 L409.7 266.9 L411.6 266.4 L413.6 265.8 L415.5 265.2 L417.4 264.6 L419.3 264.1 L421.3 263.5 L423.2 262.9 L425.1 262.4 L427.0 261.8 L428.9 261.2 L430.9 260.6 L432.8 260.1 L434.7 259.5 L436.6 259.0 L438.5 258.4 L440.5 257.8 L442.4 257.3 L444.3 256.7 L446.2 256.1 L448.1 255.6 L450.1 255.0 L452.0 254.5 L453.9 253.9 L455.8 253.4 L457.7 252.8 L459.7 252.2 L461.6 251.7 L463.5 251.1 L465.4 250.6 L467.3 250.0 L469.3 249.5 L471.2 248.9 L473.1 248.4 L475.0 247.8 L476.9 247.3 L478.9 246.7 L480.8 246.2 L482.7 245.6 L484.6 245.1 L486.6 244.5 L488.5 244.0 L490.4 243.5 L492.3 242.9 L494.2 242.4 L496.2 241.8 L498.1 241.3 L500.0 240.7 L501.9 240.2 L503.8 239.7 L505.8 239.1 L507.7 238.6 L509.6 238.1 L511.5 237.5 L513.4 237.0 L515.4 236.4 L517.3 235.9 L519.2 235.4 L521.1 234.9 L523.0 234.3 L525.0 233.8 L526.9 233.3 L528.8 232.7 L530.7 232.2 L532.6 231.7 L534.6 231.2 L536.5 230.7 L538.4 230.1 L540.3 229.6 L542.2 229.1 L544.2 228.6 L546.1 228.1 L548.0 227.6 L549.9 227.1 L551.9 226.6 L553.8 226.1 L555.7 225.6 L557.6 225.1 L559.5 224.6 L561.5 224.1 L563.4 223.6 L565.3 223.1 L567.2 222.6 L569.1 222.1 L571.1 221.6 L573.0 221.2 L574.9 220.7 L576.8 220.2 L578.7 219.8 L580.7 219.3 L582.6 218.9 L584.5 218.4 L586.4 218.0 L588.3 217.6 L590.3 217.1 L592.2 216.7 L594.1 216.3 L596.0 215.9 L597.9 215.5 L599.9 215.1 L601.8 214.7 L603.7 214.4 L605.6 214.0 L607.6 213.7 L609.5 213.3 L611.4 213.0 L613.3 212.7 L615.2 212.4 L617.2 212.1 L619.1 211.9 L621.0 211.6 L622.9 211.4 L624.8 211.2 L626.8 211.0 L628.7 210.9 L630.6 210.7 L632.5 210.6 L634.4 210.5 L636.4 210.5 L638.3 210.5 L638.9 210.5 L639.6 210.5 L640.2 210.5 L640.8 210.5 L641.5 210.5 L642.1 210.6 L642.8 210.6 L643.4 210.6 L644.0 210.7 L644.7 210.7 L645.3 210.8 L646.0 210.8 L646.6 210.9 L647.2 211.0 L647.9 211.1 L648.5 211.1 L649.2 211.2 L649.8 211.3 L650.4 211.4 L651.1 211.5 L651.7 211.6 L652.4 211.8 L653.0 211.9 L653.6 212.0 L654.3 212.2 L654.9 212.3 L655.6 212.5 L656.2 212.7 L656.8 212.9 L657.5 213.1 L658.1 213.3 L658.8 213.5 L659.4 213.7 L660.0 213.9 L660.7 214.2" stroke="#ff0000" stroke-width="2.1" stroke-linecap="round" stroke-dasharray="0.7 7.4"/>
</g>
<g fill="none">
<circle cx="123.30" cy="362.30" r="6" stroke="#ff0000" stroke-width="1.3"/>
<circle cx="700.90" cy="362.70" r="6" stroke="#ff0000" stroke-width="1.3"/>
</g>
<g clip-path="url(#cp)" fill="none">
<path d="M69.78 497.64 L71.7 484.2 L73.6 473.2 L75.5 463.9 L77.5 455.8 L79.4 448.7 L81.3 442.3 L83.2 436.5 L85.1 431.2 L87.1 426.3 L89.0 421.8 L90.9 417.6 L92.8 413.6 L94.8 409.9 L96.7 406.4 L98.6 403.1 L100.5 399.9 L102.4 396.9 L104.4 394.0 L106.3 391.2 L108.2 388.6 L110.1 386.1 L112.0 383.6 L114.0 381.3 L115.9 379.0 L117.8 376.8 L119.7 374.7 L121.6 372.6 L123.6 370.6 L125.5 368.7 L127.4 366.8 L129.3 364.9 L131.2 363.1 L133.2 361.4 L135.1 359.7 L137.0 358.1 L138.9 356.4 L140.8 354.9 L142.8 353.3 L144.7 351.8 L146.6 350.3 L148.5 348.9 L150.4 347.5 L152.4 346.1 L154.3 344.7 L156.2 343.4 L158.1 342.1 L160.1 340.8 L162.0 339.5 L163.9 338.3 L165.8 337.0 L167.7 335.8 L169.7 334.7 L171.6 333.5 L173.5 332.4 L175.4 331.2 L177.3 330.1 L179.3 329.0 L181.2 327.9 L183.1 326.9 L185.0 325.8 L186.9 324.8 L188.9 323.8 L190.8 322.8 L192.7 321.8 L194.6 320.8 L196.5 319.8 L198.5 318.9 L200.4 317.9 L202.3 317.0 L204.2 316.1 L206.1 315.2 L208.1 314.3 L210.0 313.4 L211.9 312.5 L213.8 311.7 L215.7 310.8 L217.7 309.9 L219.6 309.1 L221.5 308.3 L223.4 307.5 L225.4 306.6 L227.3 305.8 L229.2 305.0 L231.1 304.2 L233.0 303.5 L235.0 302.7 L236.9 301.9 L238.8 301.2 L240.7 300.4 L242.6 299.7 L244.6 298.9 L246.5 298.2 L248.4 297.5 L250.3 296.7 L252.2 296.0 L254.2 295.3 L256.1 294.6 L258.0 293.9 L259.9 293.2 L261.8 292.5 L263.8 291.9 L265.7 291.2 L267.6 290.5 L269.5 289.8 L271.4 289.2 L273.4 288.5 L275.3 287.9 L277.2 287.2 L279.1 286.6 L281.0 286.0 L283.0 285.3 L284.9 284.7 L286.8 284.1 L288.7 283.5 L290.7 282.9 L292.6 282.3 L294.5 281.7 L296.4 281.1 L298.3 280.5 L300.3 279.9 L302.2 279.3 L304.1 278.7 L306.0 278.1 L307.9 277.5 L309.9 277.0 L311.8 276.4 L313.7 275.8 L315.6 275.3 L317.5 274.7 L319.5 274.2 L321.4 273.6 L323.3 273.1 L325.2 272.5 L327.1 272.0 L329.1 271.5 L331.0 270.9 L332.9 270.4 L334.8 269.9 L336.7 269.3 L338.7 268.8 L340.6 268.3 L342.5 267.8 L344.4 267.3 L346.3 266.8 L348.3 266.3 L350.2 265.8 L352.1 265.3 L354.0 264.8 L356.0 264.3 L357.9 263.8 L359.8 263.3 L361.7 262.8 L363.6 262.3 L365.6 261.8 L367.5 261.4 L369.4 260.9 L371.3 260.4 L373.2 259.9 L375.2 259.5 L377.1 259.0 L379.0 258.5 L380.9 258.1 L382.8 257.6 L384.8 257.2 L386.7 256.7 L388.6 256.3 L390.5 255.8 L392.4 255.4 L394.4 254.9 L396.3 254.5 L398.2 254.1 L400.1 253.6 L402.0 253.2 L404.0 252.8 L405.9 252.3 L407.8 251.9 L409.7 251.5 L411.6 251.1 L413.6 250.7 L415.5 250.3 L417.4 249.8 L419.3 249.4 L421.3 249.0 L423.2 248.6 L425.1 248.2 L427.0 247.8 L428.9 247.4 L430.9 247.0 L432.8 246.6 L434.7 246.2 L436.6 245.9 L438.5 245.5 L440.5 245.1 L442.4 244.7 L444.3 244.3 L446.2 244.0 L448.1 243.6 L450.1 243.2 L452.0 242.9 L453.9 242.5 L455.8 242.1 L457.7 241.8 L459.7 241.4 L461.6 241.1 L463.5 240.7 L465.4 240.4 L467.3 240.0 L469.3 239.7 L471.2 239.4 L473.1 239.0 L475.0 238.7 L476.9 238.4 L478.9 238.0 L480.8 237.7 L482.7 237.4 L484.6 237.1 L486.6 236.8 L488.5 236.4 L490.4 236.1 L492.3 235.8 L494.2 235.5 L496.2 235.2 L498.1 234.9 L500.0 234.7 L501.9 234.4 L503.8 234.1 L505.8 233.8 L507.7 233.5 L509.6 233.3 L511.5 233.0 L513.4 232.7 L515.4 232.5 L517.3 232.2 L519.2 232.0 L521.1 231.7 L523.0 231.5 L525.0 231.2 L526.9 231.0 L528.8 230.8 L530.7 230.6 L532.6 230.3 L534.6 230.1 L536.5 229.9 L538.4 229.7 L540.3 229.5 L542.2 229.3 L544.2 229.2 L546.1 229.0 L548.0 228.8 L549.9 228.6 L551.9 228.5 L553.8 228.3 L555.7 228.2 L557.6 228.1 L559.5 227.9 L561.5 227.8 L563.4 227.7 L565.3 227.6 L567.2 227.5 L569.1 227.4 L571.1 227.3 L573.0 227.2 L574.9 227.2 L576.8 227.1 L578.7 227.1 L580.7 227.1 L582.6 227.1 L584.5 227.0 L586.4 227.1 L588.3 227.1 L590.3 227.1 L592.2 227.1 L594.1 227.2 L596.0 227.3 L597.9 227.4 L599.9 227.5 L601.8 227.6 L603.7 227.7 L605.6 227.9 L607.6 228.1 L609.5 228.3 L611.4 228.5 L613.3 228.7 L615.2 229.0 L617.2 229.3 L619.1 229.6 L621.0 229.9 L622.9 230.3 L624.8 230.7 L626.8 231.1 L628.7 231.6 L630.6 232.1 L632.5 232.6 L634.4 233.2 L636.4 233.8 L638.3 234.5 L638.9 234.7 L639.6 234.9 L640.2 235.2 L640.8 235.4 L641.5 235.7 L642.1 235.9 L642.8 236.2 L643.4 236.5 L644.0 236.7 L644.7 237.0 L645.3 237.3 L646.0 237.6 L646.6 237.9 L647.2 238.2 L647.9 238.5 L648.5 238.9 L649.2 239.2 L649.8 239.5 L650.4 239.9 L651.1 240.3 L651.7 240.6 L652.4 241.0 L653.0 241.4 L653.6 241.8 L654.3 242.2 L654.9 242.6 L655.6 243.0 L656.2 243.5 L656.8 243.9 L657.5 244.4 L658.1 244.8 L658.8 245.3 L659.4 245.8 L660.0 246.3 L660.7 246.8 L661.3 247.4 L662.0 247.9 L662.6 248.5 L663.2 249.0 L663.9 249.6 L664.5 250.2 L665.2 250.8 L665.8 251.5 L666.4 252.1 L667.1 252.8 L667.7 253.5 L668.4 254.2 L669.0 254.9 L669.6 255.7 L670.3 256.5 L670.9 257.3 L671.6 258.1 L672.2 258.9 L672.9 259.8 L673.5 260.7 L674.1 261.7 L674.8 262.6 L675.4 263.6 L676.1 264.6 L676.7 265.7 L677.3 266.8 L678.0 267.9 L678.6 269.1 L679.3 270.3 L679.9 271.6 L680.5 272.9 L681.2 274.2 L681.8 275.7 L682.5 277.1 L683.1 278.7 L683.7 280.3 L684.4 281.9 L685.0 283.7 L685.7 285.5 L686.3 287.4 L686.9 289.4 L687.6 291.5 L688.2 293.7 L688.9 296.1 L689.5 298.6 L690.1 301.2 L690.8 304.0 L691.4 307.0 L692.1 310.1 L692.7 313.6 L693.3 317.2 L694.0 321.2 L694.6 325.6 L695.3 330.3 L695.9 335.6 L696.5 341.4 L697.2 348.0 L697.8 355.5 L698.5 364.3 L699.1 374.7 L699.7 387.6 L700.4 404.3 L701.0 428.1 L701.7 469.0" stroke="#0000ff" stroke-width="2" stroke-linejoin="round"/>
<path d="M91.02 441.50 L92.8 437.8 L94.8 434.1 L96.7 430.7 L98.6 427.4 L100.5 424.3 L102.4 421.3 L104.4 418.5 L106.3 415.8 L108.2 413.2 L110.1 410.7 L112.0 408.3 L114.0 406.0 L115.9 403.8 L117.8 401.7 L119.7 399.6 L121.6 397.6 L123.6 395.6 L125.5 393.8 L127.4 391.9 L129.3 390.1 L131.2 388.4 L133.2 386.7 L135.1 385.1 L137.0 383.5 L138.9 381.9 L140.8 380.4 L142.8 378.9 L144.7 377.5 L146.6 376.1 L148.5 374.7 L150.4 373.3 L152.4 372.0 L154.3 370.7 L156.2 369.4 L158.1 368.2 L160.1 366.9 L162.0 365.7 L163.9 364.5 L165.8 363.4 L167.7 362.2 L169.7 361.1 L171.6 360.0 L173.5 358.9 L175.4 357.9 L177.3 356.8 L179.3 355.8 L181.2 354.8 L183.1 353.8 L185.0 352.8 L186.9 351.8 L188.9 350.9 L190.8 350.0 L192.7 349.0 L194.6 348.1 L196.5 347.2 L198.5 346.3 L200.4 345.5 L202.3 344.6 L204.2 343.7 L206.1 342.9 L208.1 342.1 L210.0 341.3 L211.9 340.4 L213.8 339.6 L215.7 338.9 L217.7 338.1 L219.6 337.3 L221.5 336.5 L223.4 335.8 L225.4 335.1 L227.3 334.3 L229.2 333.6 L231.1 332.9 L233.0 332.2 L235.0 331.5 L236.9 330.8 L238.8 330.1 L240.7 329.4 L242.6 328.7 L244.6 328.1 L246.5 327.4 L248.4 326.8 L250.3 326.1 L252.2 325.5 L254.2 324.9 L256.1 324.2 L258.0 323.6 L259.9 323.0 L261.8 322.4 L263.8 321.8 L265.7 321.2 L267.6 320.6 L269.5 320.0 L271.4 319.5 L273.4 318.9 L275.3 318.3 L277.2 317.8 L279.1 317.2 L281.0 316.7 L283.0 316.1 L284.9 315.6 L286.8 315.0 L288.7 314.5 L290.7 314.0 L292.6 313.5 L294.5 313.0 L296.4 312.4 L298.3 311.9 L300.3 311.4 L302.2 310.9 L304.1 310.5 L306.0 310.0 L307.9 309.5 L309.9 309.0 L311.8 308.5 L313.7 308.1 L315.6 307.6 L317.5 307.1 L319.5 306.7 L321.4 306.2 L323.3 305.8 L325.2 305.3 L327.1 304.9 L329.1 304.4 L331.0 304.0 L332.9 303.6 L334.8 303.1 L336.7 302.7 L338.7 302.3 L340.6 301.9 L342.5 301.5 L344.4 301.1 L346.3 300.7 L348.3 300.3 L350.2 299.9 L352.1 299.5 L354.0 299.1 L356.0 298.7 L357.9 298.3 L359.8 297.9 L361.7 297.5 L363.6 297.2 L365.6 296.8 L367.5 296.4 L369.4 296.1 L371.3 295.7 L373.2 295.4 L375.2 295.0 L377.1 294.7 L379.0 294.3 L380.9 294.0 L382.8 293.6 L384.8 293.3 L386.7 293.0 L388.6 292.6 L390.5 292.3 L392.4 292.0 L394.4 291.7 L396.3 291.3 L398.2 291.0 L400.1 290.7 L402.0 290.4 L404.0 290.1 L405.9 289.8 L407.8 289.5 L409.7 289.2 L411.6 288.9 L413.6 288.6 L415.5 288.4 L417.4 288.1 L419.3 287.8 L421.3 287.5 L423.2 287.3 L425.1 287.0 L427.0 286.7 L428.9 286.5 L430.9 286.2 L432.8 286.0 L434.7 285.7 L436.6 285.5 L438.5 285.2 L440.5 285.0 L442.4 284.8 L444.3 284.5 L446.2 284.3 L448.1 284.1 L450.1 283.9 L452.0 283.7 L453.9 283.5 L455.8 283.2 L457.7 283.0 L459.7 282.8 L461.6 282.7 L463.5 282.5 L465.4 282.3 L467.3 282.1 L469.3 281.9 L471.2 281.7 L473.1 281.6 L475.0 281.4 L476.9 281.2 L478.9 281.1 L480.8 280.9 L482.7 280.8 L484.6 280.6 L486.6 280.5 L488.5 280.4 L490.4 280.2 L492.3 280.1 L494.2 280.0 L496.2 279.9 L498.1 279.8 L500.0 279.6 L501.9 279.5 L503.8 279.5 L505.8 279.4 L507.7 279.3 L509.6 279.2 L511.5 279.1 L513.4 279.1 L515.4 279.0 L517.3 278.9 L519.2 278.9 L521.1 278.8 L523.0 278.8 L525.0 278.8 L526.9 278.8 L528.8 278.7 L530.7 278.7 L532.6 278.7 L534.6 278.7 L536.5 278.7 L538.4 278.8 L540.3 278.8 L542.2 278.8 L544.2 278.9 L546.1 278.9 L548.0 279.0 L549.9 279.0 L551.9 279.1 L553.8 279.2 L555.7 279.3 L557.6 279.4 L559.5 279.5 L561.5 279.6 L563.4 279.8 L565.3 279.9 L567.2 280.1 L569.1 280.2 L571.1 280.4 L573.0 280.6 L574.9 280.8 L576.8 281.0 L578.7 281.2 L580.7 281.5 L582.6 281.7 L584.5 282.0 L586.4 282.3 L588.3 282.6 L590.3 282.9 L592.2 283.2 L594.1 283.6 L596.0 283.9 L597.9 284.3 L599.9 284.7 L601.8 285.2 L603.7 285.6 L605.6 286.1 L607.6 286.6 L609.5 287.1 L611.4 287.6 L613.3 288.2 L615.2 288.7 L617.2 289.4 L619.1 290.0 L621.0 290.7 L622.9 291.4 L624.8 292.1 L626.8 292.9 L628.7 293.7 L630.6 294.6 L632.5 295.5 L634.4 296.4 L636.4 297.4 L638.3 298.4 L638.9 298.8 L639.6 299.1 L640.2 299.5 L640.8 299.9 L641.5 300.3 L642.1 300.6 L642.8 301.0 L643.4 301.4 L644.0 301.8 L644.7 302.2 L645.3 302.7 L646.0 303.1 L646.6 303.5 L647.2 304.0 L647.9 304.4 L648.5 304.9 L649.2 305.4 L649.8 305.8 L650.4 306.3 L651.1 306.8 L651.7 307.3 L652.4 307.8 L653.0 308.3 L653.6 308.9 L654.3 309.4 L654.9 310.0 L655.6 310.5 L656.2 311.1 L656.8 311.7 L657.5 312.3 L658.1 312.9 L658.8 313.5 L659.4 314.2 L660.0 314.8 L660.7 315.5 L661.3 316.1 L662.0 316.8 L662.6 317.5 L663.2 318.2 L663.9 319.0 L664.5 319.7 L665.2 320.5 L665.8 321.3 L666.4 322.1 L667.1 322.9 L667.7 323.8 L668.4 324.6 L669.0 325.5 L669.6 326.4 L670.3 327.3 L670.9 328.3 L671.6 329.3 L672.2 330.3 L672.9 331.3 L673.5 332.3 L674.1 333.4 L674.8 334.6 L675.4 335.7 L676.1 336.9 L676.7 338.1 L677.3 339.4 L678.0 340.6 L678.6 342.0 L679.3 343.4 L679.9 344.8 L680.5 346.3 L681.2 347.8 L681.8 349.4 L682.5 351.0 L683.1 352.7 L683.7 354.5 L684.4 356.3 L685.0 358.2 L685.7 360.2 L686.3 362.3 L686.9 364.5 L687.6 366.7 L688.2 369.1 L688.9 371.7 L689.5 374.3 L690.1 377.1 L690.8 380.1 L691.4 383.2 L692.1 386.6 L692.7 390.2 L693.3 394.0 L694.0 398.2 L694.6 402.7 L695.3 407.6 L695.9 413.1 L696.5 419.1 L697.2 425.9 L697.8 433.6 L698.5 442.5 L699.1 453.1 L699.7 466.2 L700.4 483.1" stroke="#0000ff" stroke-width="2.1" stroke-linecap="round" stroke-dasharray="0.7 7.4"/>
</g>
<g fill="none">
<circle cx="125.00" cy="366.75" r="6" stroke="#0000ff" stroke-width="1.3"/>
<circle cx="687.25" cy="366.70" r="6" stroke="#0000ff" stroke-width="1.3"/>
<rect x="286.35" y="308.45" width="10.9" height="10.9" stroke="#0000ff" stroke-width="1.3"/>
<rect x="652.55" y="308.05" width="10.9" height="10.9" stroke="#0000ff" stroke-width="1.3"/>
</g>
<g clip-path="url(#cp)" fill="none">
<path d="M69.78 497.32 L71.7 483.8 L73.6 472.7 L75.5 463.3 L77.5 455.1 L79.4 447.8 L81.3 441.3 L83.2 435.4 L85.1 430.0 L87.1 425.0 L89.0 420.3 L90.9 416.0 L92.8 411.9 L94.8 408.1 L96.7 404.4 L98.6 401.0 L100.5 397.7 L102.4 394.5 L104.4 391.5 L106.3 388.7 L108.2 385.9 L110.1 383.2 L112.0 380.6 L114.0 378.2 L115.9 375.8 L117.8 373.4 L119.7 371.2 L121.6 369.0 L123.6 366.8 L125.5 364.8 L127.4 362.7 L129.3 360.8 L131.2 358.8 L133.2 357.0 L135.1 355.1 L137.0 353.3 L138.9 351.6 L140.8 349.9 L142.8 348.2 L144.7 346.5 L146.6 344.9 L148.5 343.3 L150.4 341.7 L152.4 340.2 L154.3 338.7 L156.2 337.2 L158.1 335.8 L160.1 334.3 L162.0 332.9 L163.9 331.5 L165.8 330.1 L167.7 328.8 L169.7 327.4 L171.6 326.1 L173.5 324.8 L175.4 323.5 L177.3 322.3 L179.3 321.0 L181.2 319.8 L183.1 318.5 L185.0 317.3 L186.9 316.1 L188.9 314.9 L190.8 313.8 L192.7 312.6 L194.6 311.5 L196.5 310.3 L198.5 309.2 L200.4 308.1 L202.3 307.0 L204.2 305.9 L206.1 304.8 L208.1 303.7 L210.0 302.7 L211.9 301.6 L213.8 300.5 L215.7 299.5 L217.7 298.5 L219.6 297.4 L221.5 296.4 L223.4 295.4 L225.4 294.4 L227.3 293.4 L229.2 292.4 L231.1 291.4 L233.0 290.5 L235.0 289.5 L236.9 288.5 L238.8 287.6 L240.7 286.6 L242.6 285.6 L244.6 284.7 L246.5 283.8 L248.4 282.8 L250.3 281.9 L252.2 281.0 L254.2 280.0 L256.1 279.1 L258.0 278.2 L259.9 277.3 L261.8 276.4 L263.8 275.5 L265.7 274.6 L267.6 273.7 L269.5 272.8 L271.4 271.9 L273.4 271.0 L275.3 270.2 L277.2 269.3 L279.1 268.4 L281.0 267.5 L283.0 266.7 L284.9 265.8 L286.8 264.9 L288.7 264.1 L290.7 263.2 L292.6 262.4 L294.5 261.5 L296.4 260.6 L298.3 259.8 L300.3 258.9 L302.2 258.1 L304.1 257.2 L306.0 256.4 L307.9 255.5 L309.9 254.7 L311.8 253.9 L313.7 253.0 L315.6 252.2 L317.5 251.3 L319.5 250.5 L321.4 249.7 L323.3 248.8 L325.2 248.0 L327.1 247.2 L329.1 246.3 L331.0 245.5 L332.9 244.7 L334.8 243.8 L336.7 243.0 L338.7 242.2 L340.6 241.3 L342.5 240.5 L344.4 239.7 L346.3 238.8 L348.3 238.0 L350.2 237.2 L352.1 236.3 L354.0 235.5 L356.0 234.7 L357.9 233.8 L359.8 233.0 L361.7 232.2 L363.6 231.3 L365.6 230.5 L367.5 229.6 L369.4 228.8 L371.3 228.0 L373.2 227.1 L375.2 226.3 L377.1 225.4 L379.0 224.6 L380.9 223.7 L382.8 222.9 L384.8 222.0 L386.7 221.2 L388.6 220.3 L390.5 219.5 L392.4 218.6 L394.4 217.8 L396.3 216.9 L398.2 216.0 L400.1 215.2 L402.0 214.3 L404.0 213.4 L405.9 212.5 L407.8 211.7 L409.7 210.8 L411.6 209.9 L413.6 209.0 L415.5 208.1 L417.4 207.2 L419.3 206.3 L421.3 205.4 L423.2 204.5 L425.1 203.6 L427.0 202.7 L428.9 201.8 L430.9 200.9 L432.8 200.0 L434.7 199.0 L436.6 198.1 L438.5 197.2 L440.5 196.2 L442.4 195.3 L444.3 194.3 L446.2 193.4 L448.1 192.4 L450.1 191.5 L452.0 190.5 L453.9 189.5 L455.8 188.5 L457.7 187.5 L459.7 186.5 L461.6 185.5 L463.5 184.5 L465.4 183.5 L467.3 182.5 L469.3 181.5 L471.2 180.4 L473.1 179.4 L475.0 178.4 L476.9 177.3 L478.9 176.2 L480.8 175.2 L482.7 174.1 L484.6 173.0 L486.6 171.9 L488.5 170.8 L490.4 169.7 L492.3 168.6 L494.2 167.4 L496.2 166.3 L498.1 165.1 L500.0 164.0 L501.9 162.8 L503.8 161.6 L505.8 160.4 L507.7 159.2 L509.6 158.0 L511.5 156.7 L513.4 155.5 L515.4 154.2 L517.3 153.0 L519.2 151.7 L521.1 150.4 L523.0 149.1 L525.0 147.7 L526.9 146.4 L528.8 145.0 L530.7 143.7 L532.6 142.3 L534.6 140.8 L536.5 139.4 L538.4 138.0 L540.3 136.5 L542.2 135.0 L544.2 133.5 L546.1 132.0 L548.0 130.5 L549.9 128.9 L551.9 127.3 L553.8 125.7 L555.7 124.1 L557.6 122.4 L559.5 120.7 L561.5 119.0 L563.4 117.3 L565.3 115.5 L567.2 113.7 L569.1 111.9 L571.1 110.1 L573.0 108.2 L574.9 106.3 L576.8 104.4 L578.7 102.4 L580.7 100.4 L582.6 98.4 L584.5 96.3 L586.4 94.2 L588.3 92.1 L590.3 90.0 L592.2 87.8 L594.1 85.6 L596.0 83.3 L597.9 81.1 L599.9 78.8 L601.8 76.5 L603.7 74.1 L605.6 71.8 L607.6 69.4 L609.5 67.1 L611.4 64.7 L613.3 62.4 L615.2 60.0 L617.2 57.8 L619.1 55.5 L621.0 53.4 L622.9 51.3 L624.8 49.3 L626.8 47.5 L628.7 45.8 L630.6 44.3 L632.5 43.0 L634.4 42.0 L636.4 41.3 L638.3 40.9 L638.9 40.8 L639.6 40.8 L640.2 40.8 L640.8 40.9 L641.5 41.0 L642.1 41.2 L642.8 41.4 L643.4 41.7 L644.0 42.0 L644.7 42.3 L645.3 42.7 L646.0 43.2 L646.6 43.7 L647.2 44.2 L647.9 44.8 L648.5 45.5 L649.2 46.2 L649.8 47.0 L650.4 47.8 L651.1 48.7 L651.7 49.6 L652.4 50.6 L653.0 51.6 L653.6 52.7 L654.3 53.8 L654.9 54.9 L655.6 56.2 L656.2 57.4 L656.8 58.8 L657.5 60.1 L658.1 61.5 L658.8 63.0 L659.4 64.5 L660.0 66.0 L660.7 67.6 L661.3 69.3 L662.0 70.9 L662.6 72.7 L663.2 74.4 L663.9 76.2 L664.5 78.0 L665.2 79.9 L665.8 81.8 L666.4 83.8 L667.1 85.8 L667.7 87.8 L668.4 89.8 L669.0 91.9 L669.6 94.1 L670.3 96.2 L670.9 98.4 L671.6 100.7 L672.2 102.9 L672.9 105.2 L673.5 107.6 L674.1 110.0 L674.8 112.4 L675.4 114.8 L676.1 117.3 L676.7 119.9 L677.3 122.5 L678.0 125.1 L678.6 127.7 L679.3 130.5 L679.9 133.2 L680.5 136.0 L681.2 138.9 L681.8 141.8 L682.5 144.8 L683.1 147.8 L683.7 150.9 L684.4 154.1 L685.0 157.3 L685.7 160.6 L686.3 164.0 L686.9 167.6 L687.6 171.2 L688.2 174.9 L688.9 178.7 L689.5 182.7 L690.1 186.8 L690.8 191.1 L691.4 195.5 L692.1 200.2 L692.7 205.1 L693.3 210.2 L694.0 215.7 L694.6 221.5 L695.3 227.7 L695.9 234.4 L696.5 241.7 L697.2 249.7 L697.8 258.7 L698.5 268.9 L699.1 280.8 L699.7 295.1 L700.4 313.2 L701.0 338.4 L701.7 380.8" stroke="#00ff00" stroke-width="2" stroke-linejoin="round"/>
<path d="M90.31 441.50 L90.9 440.2 L92.8 436.2 L94.8 432.4 L96.7 428.9 L98.6 425.5 L100.5 422.3 L102.4 419.2 L104.4 416.3 L106.3 413.5 L108.2 410.8 L110.1 408.2 L112.0 405.7 L114.0 403.3 L115.9 401.0 L117.8 398.7 L119.7 396.5 L121.6 394.4 L123.6 392.4 L125.5 390.4 L127.4 388.4 L129.3 386.6 L131.2 384.7 L133.2 382.9 L135.1 381.2 L137.0 379.5 L138.9 377.8 L140.8 376.2 L142.8 374.6 L144.7 373.0 L146.6 371.5 L148.5 370.0 L150.4 368.5 L152.4 367.1 L154.3 365.6 L156.2 364.3 L158.1 362.9 L160.1 361.5 L162.0 360.2 L163.9 358.9 L165.8 357.6 L167.7 356.4 L169.7 355.1 L171.6 353.9 L173.5 352.7 L175.4 351.5 L177.3 350.4 L179.3 349.2 L181.2 348.1 L183.1 347.0 L185.0 345.8 L186.9 344.8 L188.9 343.7 L190.8 342.6 L192.7 341.6 L194.6 340.5 L196.5 339.5 L198.5 338.5 L200.4 337.5 L202.3 336.5 L204.2 335.5 L206.1 334.5 L208.1 333.5 L210.0 332.6 L211.9 331.6 L213.8 330.7 L215.7 329.8 L217.7 328.9 L219.6 328.0 L221.5 327.1 L223.4 326.2 L225.4 325.3 L227.3 324.4 L229.2 323.5 L231.1 322.7 L233.0 321.8 L235.0 321.0 L236.9 320.2 L238.8 319.3 L240.7 318.5 L242.6 317.7 L244.6 316.9 L246.5 316.1 L248.4 315.3 L250.3 314.5 L252.2 313.7 L254.2 312.9 L256.1 312.1 L258.0 311.3 L259.9 310.6 L261.8 309.8 L263.8 309.0 L265.7 308.3 L267.6 307.5 L269.5 306.8 L271.4 306.1 L273.4 305.3 L275.3 304.6 L277.2 303.9 L279.1 303.1 L281.0 302.4 L283.0 301.7 L284.9 301.0 L286.8 300.3 L288.7 299.6 L290.7 298.9 L292.6 298.2 L294.5 297.5 L296.4 296.8 L298.3 296.1 L300.3 295.5 L302.2 294.8 L304.1 294.1 L306.0 293.4 L307.9 292.8 L309.9 292.1 L311.8 291.5 L313.7 290.8 L315.6 290.1 L317.5 289.5 L319.5 288.8 L321.4 288.2 L323.3 287.5 L325.2 286.9 L327.1 286.3 L329.1 285.6 L331.0 285.0 L332.9 284.4 L334.8 283.7 L336.7 283.1 L338.7 282.5 L340.6 281.9 L342.5 281.2 L344.4 280.6 L346.3 280.0 L348.3 279.4 L350.2 278.8 L352.1 278.2 L354.0 277.6 L356.0 277.0 L357.9 276.4 L359.8 275.8 L361.7 275.2 L363.6 274.6 L365.6 274.0 L367.5 273.4 L369.4 272.8 L371.3 272.2 L373.2 271.6 L375.2 271.0 L377.1 270.4 L379.0 269.8 L380.9 269.3 L382.8 268.7 L384.8 268.1 L386.7 267.5 L388.6 266.9 L390.5 266.4 L392.4 265.8 L394.4 265.2 L396.3 264.7 L398.2 264.1 L400.1 263.5 L402.0 263.0 L404.0 262.4 L405.9 261.8 L407.8 261.3 L409.7 260.7 L411.6 260.1 L413.6 259.6 L415.5 259.0 L417.4 258.5 L419.3 257.9 L421.3 257.4 L423.2 256.8 L425.1 256.2 L427.0 255.7 L428.9 255.1 L430.9 254.6 L432.8 254.0 L434.7 253.5 L436.6 253.0 L438.5 252.4 L440.5 251.9 L442.4 251.3 L444.3 250.8 L446.2 250.2 L448.1 249.7 L450.1 249.2 L452.0 248.6 L453.9 248.1 L455.8 247.5 L457.7 247.0 L459.7 246.5 L461.6 245.9 L463.5 245.4 L465.4 244.9 L467.3 244.4 L469.3 243.8 L471.2 243.3 L473.1 242.8 L475.0 242.2 L476.9 241.7 L478.9 241.2 L480.8 240.7 L482.7 240.1 L484.6 239.6 L486.6 239.1 L488.5 238.6 L490.4 238.1 L492.3 237.5 L494.2 237.0 L496.2 236.5 L498.1 236.0 L500.0 235.5 L501.9 235.0 L503.8 234.5 L505.8 233.9 L507.7 233.4 L509.6 232.9 L511.5 232.4 L513.4 231.9 L515.4 231.4 L517.3 230.9 L519.2 230.4 L521.1 229.9 L523.0 229.4 L525.0 228.9 L526.9 228.4 L528.8 227.9 L530.7 227.4 L532.6 226.9 L534.6 226.5 L536.5 226.0 L538.4 225.5 L540.3 225.0 L542.2 224.5 L544.2 224.1 L546.1 223.6 L548.0 223.1 L549.9 222.6 L551.9 222.2 L553.8 221.7 L555.7 221.2 L557.6 220.8 L559.5 220.3 L561.5 219.9 L563.4 219.4 L565.3 219.0 L567.2 218.6 L569.1 218.1 L571.1 217.7 L573.0 217.3 L574.9 216.8 L576.8 216.4 L578.7 216.0 L580.7 215.6 L582.6 215.2 L584.5 214.8 L586.4 214.4 L588.3 214.0 L590.3 213.7 L592.2 213.3 L594.1 213.0 L596.0 212.6 L597.9 212.3 L599.9 211.9 L601.8 211.6 L603.7 211.3 L605.6 211.0 L607.6 210.7 L609.5 210.5 L611.4 210.2 L613.3 210.0 L615.2 209.7 L617.2 209.5 L619.1 209.3 L621.0 209.2 L622.9 209.0 L624.8 208.9 L626.8 208.8 L628.7 208.7 L630.6 208.6 L632.5 208.6 L634.4 208.6 L636.4 208.6 L638.3 208.7 L638.9 208.7 L639.6 208.8 L640.2 208.8 L640.8 208.9 L641.5 208.9 L642.1 209.0 L642.8 209.0 L643.4 209.1 L644.0 209.2 L644.7 209.3 L645.3 209.3 L646.0 209.4 L646.6 209.5 L647.2 209.6 L647.9 209.7 L648.5 209.8 L649.2 210.0 L649.8 210.1 L650.4 210.2 L651.1 210.4 L651.7 210.5 L652.4 210.7 L653.0 210.8 L653.6 211.0 L654.3 211.2 L654.9 211.4 L655.6 211.6 L656.2 211.8 L656.8 212.0 L657.5 212.2 L658.1 212.4 L658.8 212.7 L659.4 212.9 L660.0 213.2 L660.7 213.5 L661.3 213.8 L662.0 214.1 L662.6 214.4 L663.2 214.7 L663.9 215.1 L664.5 215.5 L665.2 215.8 L665.8 216.2 L666.4 216.6 L667.1 217.1 L667.7 217.5 L668.4 218.0 L669.0 218.4 L669.6 218.9 L670.3 219.5 L670.9 220.0 L671.6 220.6 L672.2 221.2 L672.9 221.8 L673.5 222.4 L674.1 223.1 L674.8 223.8 L675.4 224.5 L676.1 225.3 L676.7 226.0 L677.3 226.9 L678.0 227.7 L678.6 228.6 L679.3 229.6 L679.9 230.6 L680.5 231.6 L681.2 232.7 L681.8 233.8 L682.5 235.0 L683.1 236.3 L683.7 237.6 L684.4 239.0 L685.0 240.4 L685.7 242.0 L686.3 243.6 L686.9 245.3 L687.6 247.1 L688.2 249.1 L688.9 251.1 L689.5 253.3 L690.1 255.7 L690.8 258.2 L691.4 260.8 L692.1 263.7 L692.7 266.8 L693.3 270.2 L694.0 273.9 L694.6 277.9 L695.3 282.4 L695.9 287.3 L696.5 292.9 L697.2 299.2 L697.8 306.4 L698.5 314.8 L699.1 325.0 L699.7 337.5 L700.4 354.0 L701.0 377.4" stroke="#00ff00" stroke-width="2.1" stroke-linecap="round" stroke-dasharray="0.7 7.4"/>
</g>
<g fill="none">
<circle cx="128.35" cy="358.20" r="6" stroke="#00ff00" stroke-width="1.3"/>
<circle cx="698.50" cy="359.00" r="6" stroke="#00ff00" stroke-width="1.3"/>
<rect x="285.75" y="292.55" width="10.9" height="10.9" stroke="#00ff00" stroke-width="1.3"/>
<rect x="690.95" y="292.55" width="10.9" height="10.9" stroke="#00ff00" stroke-width="1.3"/>
</g>
</svg>
</body></html>
